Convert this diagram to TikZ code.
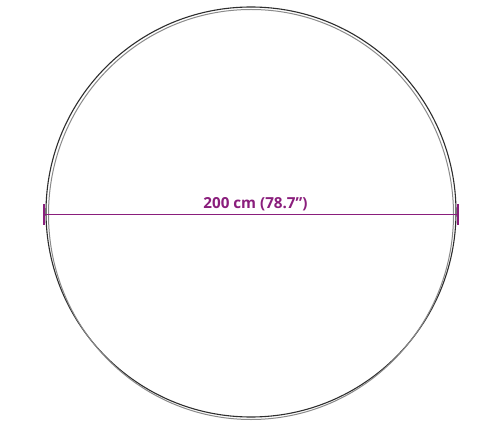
\documentclass[tikz,border=0pt]{standalone}
\usepackage{fontspec}
\setmainfont{Open Sans}
\definecolor{dimpurple}{HTML}{8A1E7C}
\definecolor{ringdark}{HTML}{2E2E2E}
\definecolor{ringgray}{HTML}{8A8A8A}
\begin{document}
\begin{tikzpicture}[x=1pt,y=-1pt,
  ringouter/.style={draw=ringdark,line width=1.1pt},
  ringinner/.style={draw=ringgray,line width=1pt},
  dimline/.style={draw=dimpurple,line width=1.2pt},
  dimlabel/.style={text=dimpurple,font=\bfseries\fontsize{15.2}{17}\selectfont,inner sep=0pt,anchor=base}]
\useasboundingbox (0,0) rectangle (502,430);
\fill[white] (0,0) rectangle (502,430);
\draw[ringouter] (251,212) circle[radius=205];
\draw[ringinner] (251,214.5) ellipse[x radius=202.5,y radius=205];
\coordinate (L) at (44,214.5);
\coordinate (R) at (458,214.5);
\coordinate (Lt) at (44,204);
\coordinate (Lb) at (44,225);
\coordinate (Rt) at (458,204);
\coordinate (Rb) at (458,225);
\draw[dimline] (L) -- (R);
\draw[dimline] (Lt) -- (Lb);
\draw[dimline] (Rt) -- (Rb);
\node[dimlabel] (lbl) at (255.5,208.5) {200 cm (78.7”)};
\end{tikzpicture}
\end{document}
